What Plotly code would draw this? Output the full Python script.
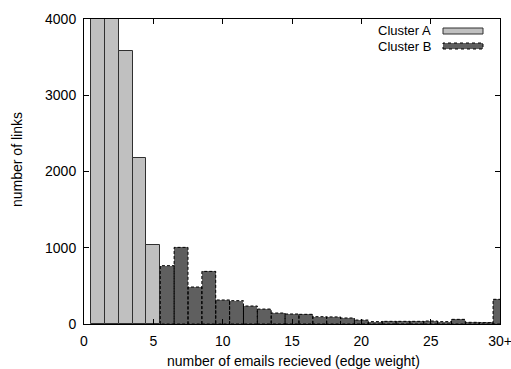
import plotly.graph_objects as go

# ---- data ----
cluster_a_x = [1, 2, 3, 4, 5]
cluster_a_y = [7800, 4700, 3580, 2180, 1030]
cluster_b_x = list(range(6, 31))
cluster_b_y = [765, 1005, 485, 690, 315, 306, 236, 196, 144, 131, 127, 96, 93,
               79, 52, 31, 35, 35, 35, 39, 31, 61, 22, 18, 324]
x_tick_vals = [0, 5, 10, 15, 20, 25, 30]
x_tick_text = ["0", "5", "10", "15", "20", "25", "30+"]
y_tick_vals = [0, 1000, 2000, 3000, 4000]

FONT = "Liberation Sans, Arial, Helvetica, sans-serif"
LIGHT = "#c0c0c0"
DARK = "#5f5f5f"

fig = go.Figure()
fig.add_trace(go.Bar(x=cluster_a_x, y=cluster_a_y, width=1, name="Cluster A",
                     marker=dict(color=LIGHT, line=dict(color="#303030", width=1)),
                     showlegend=False))
fig.add_trace(go.Bar(x=cluster_b_x, y=cluster_b_y, width=1, name="Cluster B",
                     marker=dict(color=DARK, line=dict(color=DARK, width=0)),
                     showlegend=False))

# dashed outlines of Cluster B bars
ox, oy = [], []
for c, v in zip(cluster_b_x, cluster_b_y):
    ox += [c - 0.5, c - 0.5, c + 0.5, c + 0.5, c - 0.5, None]
    oy += [0, v, v, 0, 0, None]
fig.add_trace(go.Scatter(x=ox, y=oy, mode="lines", hoverinfo="skip",
                         line=dict(color="black", width=1, dash="3px,2px"),
                         showlegend=False))

# legend drawn manually (gnuplot style)
W, H = 511, 369
L, R, T, B = 84, 11, 19, 45
pw, ph = W - L - R, H - T - B
def px(x): return (x - L) / pw
def py(y): return 1 - (y - T) / ph

for label, yc in [("Cluster A", 31), ("Cluster B", 46)]:
    fig.add_annotation(x=px(433), y=py(yc), xref="paper", yref="paper",
                       text=label, showarrow=False, xanchor="right", yanchor="middle",
                       font=dict(family=FONT, size=13, color="black"))
fig.add_shape(type="rect", xref="paper", yref="paper",
              x0=px(443), x1=px(483), y0=py(34), y1=py(28),
              fillcolor=LIGHT, line=dict(color="#303030", width=1))
fig.add_shape(type="rect", xref="paper", yref="paper",
              x0=px(443), x1=px(483), y0=py(49), y1=py(43),
              fillcolor=DARK, line=dict(color="black", width=1, dash="dot"))

fig.add_annotation(x=px(17), y=py(160), xref="paper", yref="paper",
                   text="number of links", showarrow=False, textangle=-90,
                   xanchor="center", yanchor="middle",
                   font=dict(family=FONT, size=14, color="black"))
fig.add_annotation(x=px(293), y=py(361), xref="paper", yref="paper",
                   text="number of emails recieved (edge weight)", showarrow=False,
                   xanchor="center", yanchor="middle",
                   font=dict(family=FONT, size=14, color="black"))

axis_common = dict(showline=True, linecolor="black", linewidth=1, mirror="allticks",
                   ticks="inside", ticklen=5, tickcolor="black", tickwidth=1,
                   showgrid=False, zeroline=False, automargin=False,
                   ticklabeloverflow="allow",
                   tickfont=dict(family=FONT, size=14, color="black"))

fig.update_layout(
    width=W, height=H,
    margin=dict(l=L, r=R, t=T, b=B, pad=0, autoexpand=False),
    paper_bgcolor="white", plot_bgcolor="white",
    bargap=0, barmode="overlay",
    xaxis=dict(range=[0, 30], tickvals=x_tick_vals, ticktext=x_tick_text,
               ticklabelstandoff=4, **axis_common),
    yaxis=dict(range=[0, 4000], tickvals=y_tick_vals, ticklabelstandoff=4,
               **axis_common),
)

fig.write_html("out.html")
